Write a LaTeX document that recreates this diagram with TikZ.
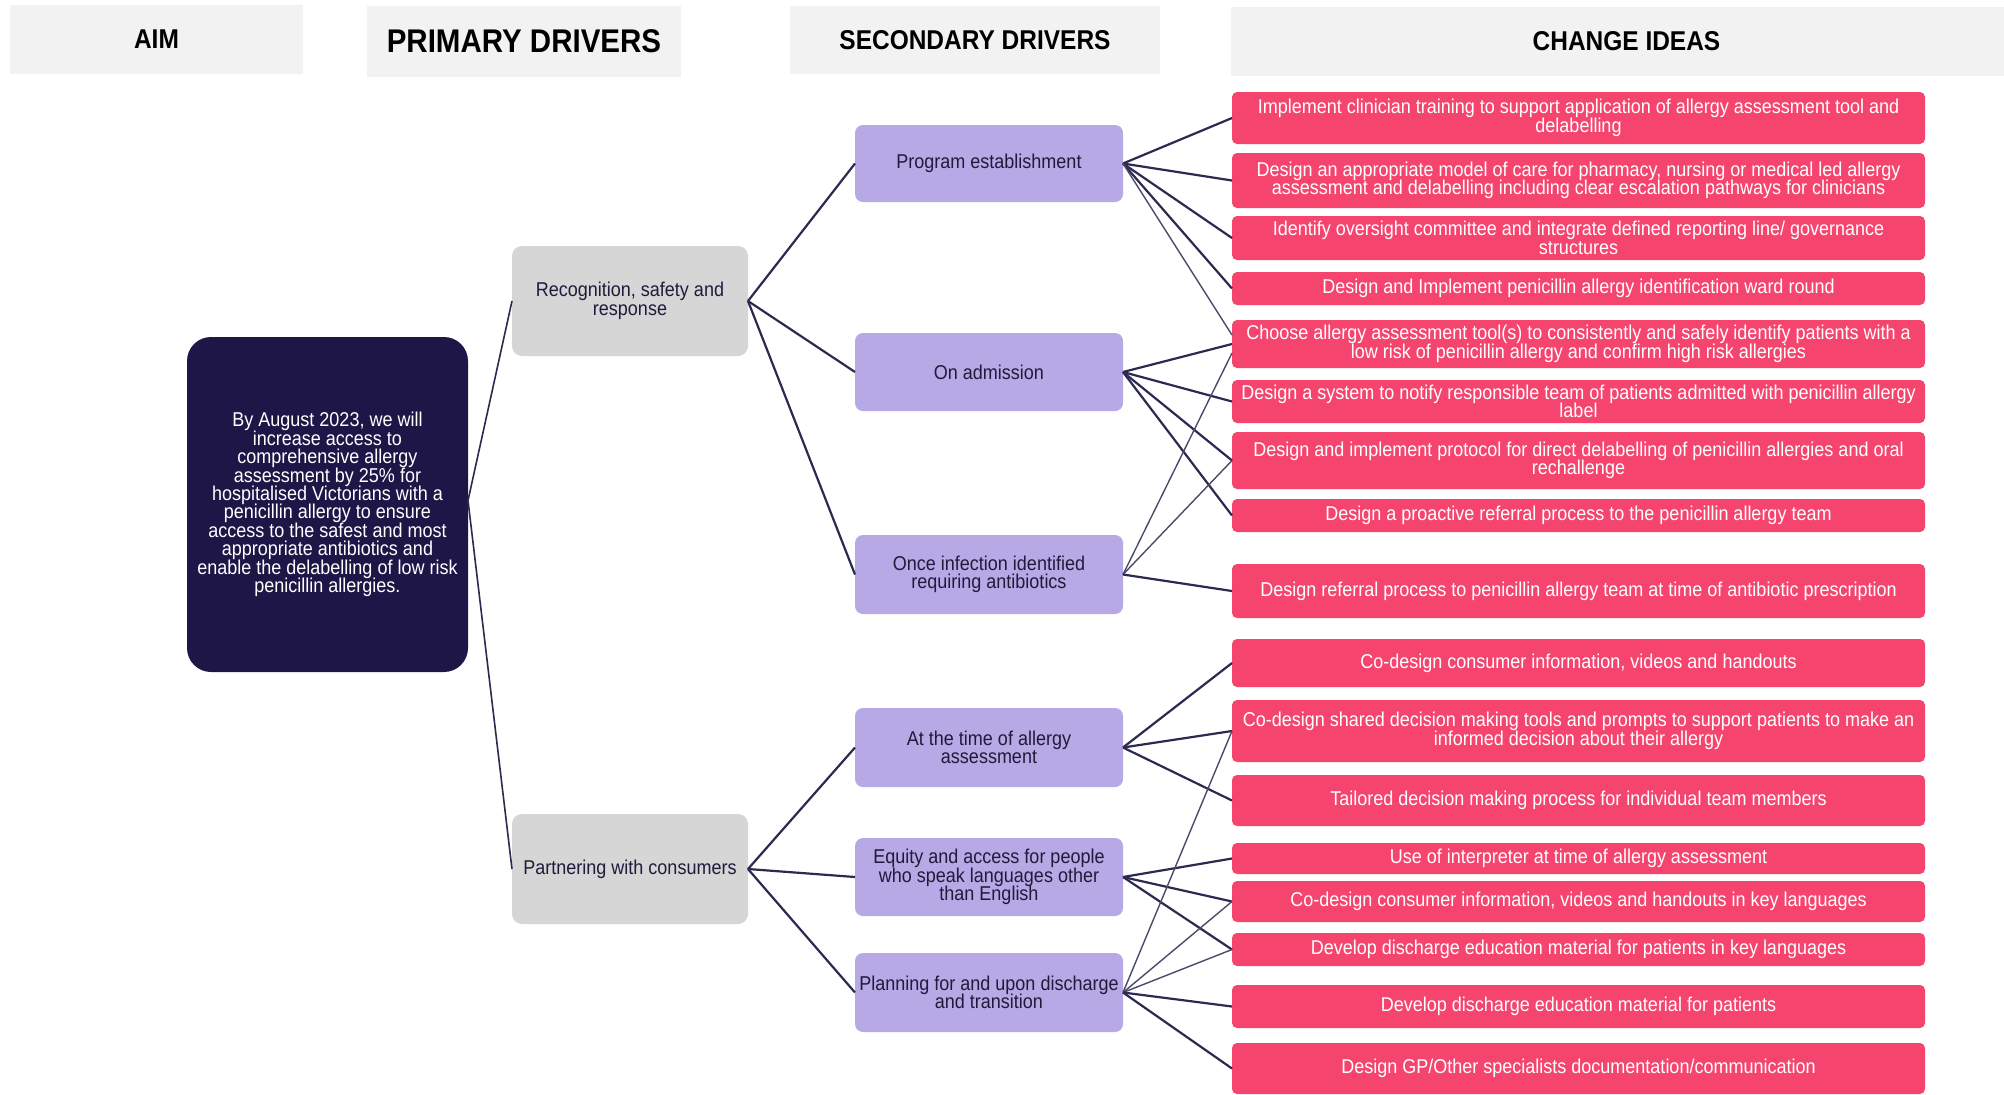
\documentclass[tikz,border=0pt]{standalone}
\usepackage{fontspec}
\setmainfont{Liberation Sans}[FakeStretch=0.9]
\usetikzlibrary{calc}
\definecolor{navy}{HTML}{1E1646}
\definecolor{lav}{HTML}{B6A9E6}
\definecolor{pinkc}{HTML}{F5456E}
\definecolor{grayp}{HTML}{D6D6D6}
\definecolor{hdr}{HTML}{F2F2F2}
\definecolor{linec}{HTML}{2C2A50}
\definecolor{txt}{HTML}{1F1B3A}
\newcommand\bx[7]{\node[#1, minimum width={(#5-#3)*0.5pt}, minimum height={(#6-#4)*0.5pt}] (#2) at ({(#3+#5)/2},{(#4+#6)/2}) {#7};}
\tikzset{
  base/.style={inner sep=0pt, outer sep=0pt, align=center, font=\fontsize{10}{9.2}\selectfont,
    execute at begin node={\lineskiplimit=-20pt\lineskip=0pt}},
  hdrbox/.style={base, fill=hdr, text=black, font=\bfseries\fontsize{13.6}{15}\selectfont},
  hdrbig/.style={hdrbox, font=\bfseries\fontsize{16.4}{18}\selectfont},
  aimbox/.style={base, fill=navy, rounded corners=12pt, text=white},
  primbox/.style={base, fill=grayp, rounded corners=5pt, text=txt},
  secbox/.style={base, fill=lav, rounded corners=4pt, text=txt},
  ideabox/.style={base, fill=pinkc, rounded corners=2.5pt, text=white},
  link/.style={draw=linec, line width=1.1pt},
  farlink/.style={draw=linec!85, line width=0.7pt},
  aimlink/.style={draw=linec, line width=0.8pt}
}
\begin{document}
\begin{tikzpicture}[x=0.5pt,y=-0.5pt]
\fill[white] (0,0) rectangle (2004,1094);
\useasboundingbox (0,0) rectangle (2004,1094);
% headers
\bx{hdrbox}{hA}{10}{5}{303}{74}{AIM}
\bx{hdrbig}{hP}{367}{6}{681}{77}{PRIMARY DRIVERS}
\bx{hdrbox}{hS}{790}{6}{1160}{74}{SECONDARY DRIVERS}
\bx{hdrbox}{hC}{1231}{7}{2022}{76}{CHANGE IDEAS}
% aim
\bx{aimbox}{aim}{187}{337}{468}{672}{By August 2023, we will\\increase access to\\comprehensive allergy\\assessment by 25\% for\\hospitalised Victorians with a\\penicillin allergy to ensure\\access to the safest and most\\appropriate antibiotics and\\enable the delabelling of low risk\\penicillin allergies.}
% primary
\bx{primbox}{p1}{512}{246}{748}{356}{Recognition, safety and\\response}
\bx{primbox}{p2}{512}{814}{748}{924}{Partnering with consumers}
% secondary
\bx{secbox}{s1}{855}{125}{1123}{202}{Program establishment}
\bx{secbox}{s2}{855}{333}{1123}{411}{On admission}
\bx{secbox}{s3}{855}{535}{1123}{614}{Once infection identified\\requiring antibiotics}
\bx{secbox}{s4}{855}{708}{1123}{787}{At the time of allergy\\assessment}
\bx{secbox}{s5}{855}{838}{1123}{916}{Equity and access for people\\who speak languages other\\than English}
\bx{secbox}{s6}{855}{953}{1123}{1032}{Planning for and upon discharge\\and transition}
% change ideas
\bx{ideabox}{c1}{1232}{92}{1925}{144}{Implement clinician training to support application of allergy assessment tool and\\delabelling}
\bx{ideabox}{c2}{1232}{153}{1925}{208}{Design an appropriate model of care for pharmacy, nursing or medical led allergy\\assessment and delabelling including clear escalation pathways for clinicians}
\bx{ideabox}{c3}{1232}{216}{1925}{260}{Identify oversight committee and integrate defined reporting line/ governance\\structures}
\bx{ideabox}{c4}{1232}{272}{1925}{305}{Design and Implement penicillin allergy identification ward round}
\bx{ideabox}{c5}{1232}{320}{1925}{368}{Choose allergy assessment tool(s) to consistently and safely identify patients with a\\low risk of penicillin allergy and confirm high risk allergies}
\bx{ideabox}{c6}{1232}{380}{1925}{423}{Design a system to notify responsible team of patients admitted with penicillin allergy\\label}
\bx{ideabox}{c7}{1232}{432}{1925}{489}{Design and implement protocol for direct delabelling of penicillin allergies and oral\\rechallenge}
\bx{ideabox}{c8}{1232}{499}{1925}{532}{Design a proactive referral process to the penicillin allergy team}
\bx{ideabox}{c9}{1232}{564}{1925}{618}{Design referral process to penicillin allergy team at time of antibiotic prescription}
\bx{ideabox}{c10}{1232}{639}{1925}{687}{Co-design consumer information, videos and handouts}
\bx{ideabox}{c11}{1232}{700}{1925}{762}{Co-design shared decision making tools and prompts to support patients to make an\\informed decision about their allergy}
\bx{ideabox}{c12}{1232}{775}{1925}{826}{Tailored decision making process for individual team members}
\bx{ideabox}{c13}{1232}{843}{1925}{874}{Use of interpreter at time of allergy assessment}
\bx{ideabox}{c14}{1232}{881}{1925}{922}{Co-design consumer information, videos and handouts in key languages}
\bx{ideabox}{c15}{1232}{933}{1925}{966}{Develop discharge education material for patients in key languages}
\bx{ideabox}{c16}{1232}{985}{1925}{1028}{Develop discharge education material for patients}
\bx{ideabox}{c17}{1232}{1043}{1925}{1094}{Design GP/Other specialists documentation/communication}
% aim links
\draw[aimlink] ($(aim.east)+(0,-4)$) -- (p1.west);
\draw[aimlink] ($(aim.east)+(0,-4)$) -- (p2.west);
% primary -> secondary
\foreach \s in {s1,s2,s3} \draw[link] (p1.east) -- (\s.west);
\foreach \s in {s4,s5,s6} \draw[link] (p2.east) -- (\s.west);
% secondary -> change ideas
\foreach \c in {c1,c2,c3,c4} \draw[link] (s1.east) -- (\c.west);
\draw[farlink] (s1.east) -- ($(c5.west)+(0,-9)$);
\foreach \c in {c5,c6,c7,c8} \draw[link] (s2.east) -- (\c.west);
\draw[farlink] (s3.east) -- ($(c5.west)+(0,9)$);
\draw[farlink] (s3.east) -- (c7.west);
\draw[link] (s3.east) -- (c9.west);
\foreach \c in {c10,c11,c12} \draw[link] (s4.east) -- (\c.west);
\foreach \c in {c13,c14,c15} \draw[link] (s5.east) -- (\c.west);
\draw[farlink] (s6.east) -- (c11.west);
\draw[farlink] (s6.east) -- (c14.west);
\draw[farlink] (s6.east) -- (c15.west);
\draw[link] (s6.east) -- (c16.west);
\draw[link] (s6.east) -- (c17.west);
\end{tikzpicture}
\end{document}
